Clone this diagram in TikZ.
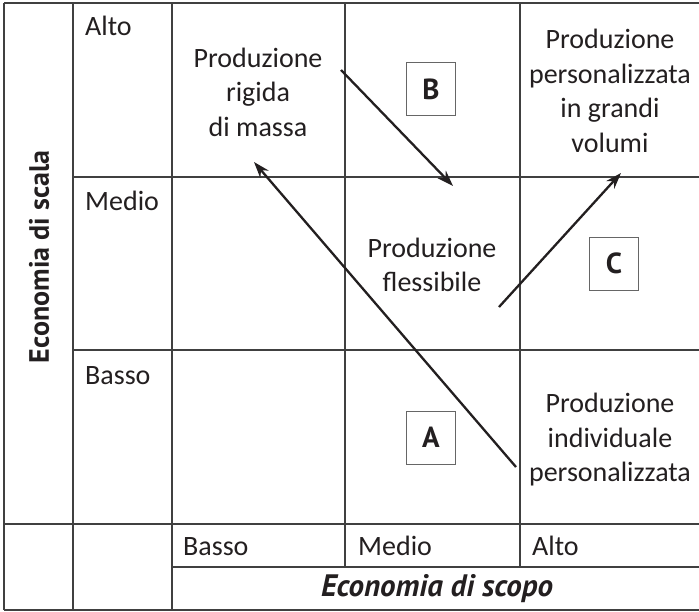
\documentclass[tikz,border=0pt]{standalone}
\usepackage{fontspec}
\setmainfont{Carlito}
\newfontfamily\heavysans{PT Sans}
\usetikzlibrary{arrows.meta}
\definecolor{ink}{HTML}{231F20}
\begin{document}
\begin{tikzpicture}[x=1pt,y=-1pt,
  grid/.style={draw=black!75,line width=1.1pt},
  lbl/.style={text=ink,font=\fontsize{28}{34.5}\selectfont,inner sep=0pt,anchor=base west},
  cell/.style={text=ink,font=\fontsize{28}{34.5}\selectfont,align=center,inner sep=0pt},
  letterbox/.style={draw=black!60,line width=0.8pt,text=ink,minimum width=49pt,minimum height=53pt,
    font=\heavysans\fontsize{29}{34}\selectfont\bfseries,inner sep=0pt},
  arr/.style={draw=ink,line width=2.3pt,-{Stealth[length=16pt,width=11pt]}},
  axis/.style={text=ink,font=\heavysans\fontsize{28}{32}\selectfont\bfseries,inner sep=0pt}]
\useasboundingbox (0,0) rectangle (699,611);
\fill[white] (0,0) rectangle (699,611);
% grid
\draw[grid] (4,3) -- (699,3);
\draw[grid] (4,3) -- (4,610);
\draw[grid] (73,3) -- (73,610);
\draw[grid] (172,3) -- (172,610);
\draw[grid] (345,3) -- (345,567);
\draw[grid] (520,3) -- (520,567);
\draw[grid] (73,177) -- (699,177);
\draw[grid] (73,350) -- (699,350);
\draw[grid] (4,524) -- (699,524);
\draw[grid] (172,567) -- (699,567);
\draw[grid] (4,610) -- (699,610);
% axis titles
\node[axis,rotate=90] (ys) at (39,257) {Economia di scala};
\node[axis,font=\heavysans\fontsize{31}{34}\selectfont\bfseries\itshape] (xs) at (437,589) {Economia di scopo};
% row labels
\node[lbl] (ra) at (85,35) {Alto};
\node[lbl] (rm) at (85,210) {Medio};
\node[lbl] (rb) at (85,384) {Basso};
% column labels
\node[lbl] (cb) at (183,555) {Basso};
\node[lbl] (cm) at (358,555) {Medio};
\node[lbl] (ca) at (532,555) {Alto};
% cell texts
\node[cell] (rig) at (258,92) {Produzione\\rigida\\di massa};
\node[cell] (gv) at (610,91) {Produzione\\personalizzata\\in grandi\\volumi};
\node[cell] (fl) at (432,265) {Produzione\\flessibile};
\node[cell] (ind) at (610,440) {Produzione\\individuale\\personalizzata};
% letter boxes
\node[letterbox] (B) at (431,89) {B};
\node[letterbox] (C) at (614,263.5) {C};
\node[letterbox] (A) at (431,437.5) {A};
% arrows
\coordinate (a1) at (516,467);
\coordinate (a2) at (254,162);
\coordinate (b1) at (341,70);
\coordinate (b2) at (453,186);
\coordinate (c1) at (499,307);
\coordinate (c2) at (621,173);
\draw[arr] (a1) -- (a2);
\draw[arr] (b1) -- (b2);
\draw[arr] (c1) -- (c2);
\end{tikzpicture}
\end{document}
